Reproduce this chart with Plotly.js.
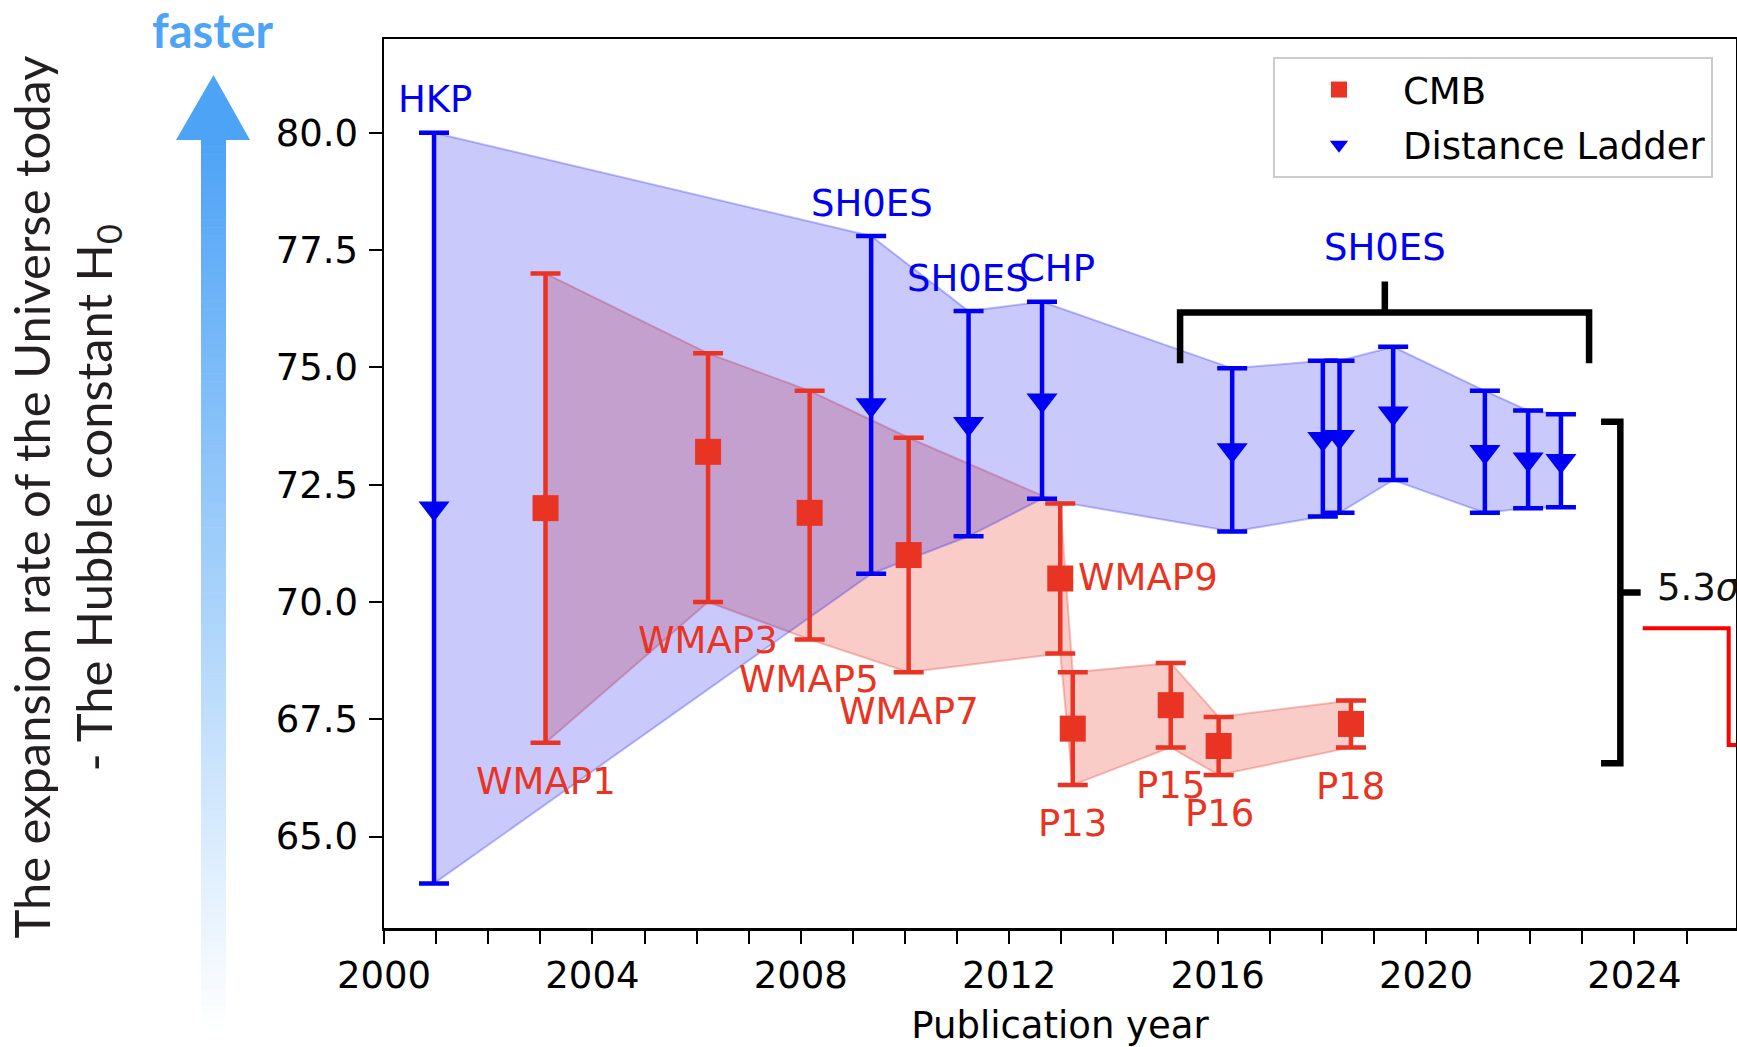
<!DOCTYPE html>
<html><head><meta charset="utf-8">
<script src="https://cdn.plot.ly/plotly-3.0.1.min.js"></script>
<style>html,body{margin:0;padding:0;background:#fff;}#chart{width:1737px;height:1047px;}</style>
</head><body><div id="chart"></div>
<script>
// ---------------- data ----------------
const cmbNames   = ['WMAP1','WMAP3','WMAP5','WMAP7','WMAP9','P13','P15','P16','P18'];
const cmbYear    = [2003.10, 2006.22, 2008.17, 2010.07, 2012.98, 2013.22, 2015.10, 2016.02, 2018.56];
const cmbH0      = [72.0, 73.2, 71.9, 71.0, 70.5, 67.3, 67.8, 66.93, 67.4];
const cmbErrUp   = [5.0, 2.1, 2.6, 2.5, 1.6, 1.2, 0.9, 0.62, 0.5];
const cmbErrDown = [5.0, 3.2, 2.7, 2.5, 1.6, 1.2, 0.9, 0.62, 0.5];

const dlNames = ['HKP','SH0ES','SH0ES','CHP','SH0ES','SH0ES','SH0ES','SH0ES','SH0ES','SH0ES','SH0ES'];
const dlYear  = [2000.96, 2009.35, 2011.22, 2012.63, 2016.28, 2018.02, 2018.34, 2019.37, 2021.13, 2021.96, 2022.59];
const dlH0    = [72.0, 74.2, 73.8, 74.3, 73.24, 73.48, 73.52, 74.02, 73.2, 73.04, 73.01];
const dlErr   = [8.0, 3.6, 2.4, 2.1, 1.74, 1.66, 1.62, 1.42, 1.3, 1.04, 0.99];

const xTickVals = [2000, 2004, 2008, 2012, 2016, 2020, 2024];
const yTickVals = [65.0, 67.5, 70.0, 72.5, 75.0, 77.5, 80.0];
const sigmaLabel = '5.3';

// label text shown on the chart, and where each one sits (layout)
const dlLabelText = ['HKP','SH0ES','SH0ES','CHP','SH0ES'];
const dlLabelPos  = [[2000.98,80.71],[2009.36,78.49],[2011.20,76.89],[2012.92,77.11],[2019.22,77.56]];
const cmbLabelPos = [[2003.11,66.17,'center'],[2006.21,69.17,'center'],[2008.16,68.35,'center'],[2010.07,67.66,'center'],
                     [2013.28,70.52,'left'],[2013.22,65.27,'center'],[2015.10,66.08,'center'],[2016.03,65.49,'center'],[2018.56,66.06,'center']];

// ---------------- styling ----------------
const RED = '#e93424', BLUE = '#0000f5';
const FONT = 'DejaVu Sans';
const W = 1737, H = 1047, ML = 384, MR = 1, MT = 39, MB = 119;
const PW = W - ML - MR, PH = H - MT - MB;
const px = X => (X - ML) / PW;          // page pixel -> paper x
const py = Y => (H - MB - Y) / PH;      // page pixel -> paper y

function fitSize(text, family, weight, target) {
  const c = document.createElement('canvas').getContext('2d');
  c.font = weight + ' 100px "' + family + '"';
  return 100 * target / c.measureText(text).width;
}

const cmbUpper = cmbH0.map((v, i) => v + cmbErrUp[i]);
const cmbLower = cmbH0.map((v, i) => v - cmbErrDown[i]);
const dlUpper  = dlH0.map((v, i) => v + dlErr[i]);
const dlLower  = dlH0.map((v, i) => v - dlErr[i]);

const traces = [
  {x: cmbYear, y: cmbUpper, mode: 'lines', line: {color: 'rgba(233,52,36,0.3)', width: 2}, showlegend: false, hoverinfo: 'skip'},
  {x: cmbYear, y: cmbLower, mode: 'lines', fill: 'tonexty', fillcolor: 'rgba(233,52,36,0.25)',
   line: {color: 'rgba(233,52,36,0.3)', width: 2}, showlegend: false, hoverinfo: 'skip'},
  {x: dlYear, y: dlUpper, mode: 'lines', line: {color: 'rgba(0,0,235,0.25)', width: 2}, showlegend: false, hoverinfo: 'skip'},
  {x: dlYear, y: dlLower, mode: 'lines', fill: 'tonexty', fillcolor: 'rgba(0,0,235,0.21)',
   line: {color: 'rgba(0,0,235,0.25)', width: 2}, showlegend: false, hoverinfo: 'skip'},
  {x: cmbYear, y: cmbH0, mode: 'markers', name: 'CMB', legendgroup: 'a', text: cmbNames,
   marker: {symbol: 'square', size: 26, color: RED, line: {width: 0}},
   error_y: {type: 'data', symmetric: false, array: cmbErrUp, arrayminus: cmbErrDown, color: RED, thickness: 4.5, width: 15}},
  {x: dlYear, y: dlH0, mode: 'markers', name: 'Distance Ladder', legendgroup: 'b', text: dlNames,
   marker: {symbol: 'triangle-down', size: 27, color: BLUE, line: {width: 0}},
   error_y: {type: 'data', array: dlErr, color: BLUE, thickness: 4.5, width: 15}}
];

// ---------------- annotations ----------------
const annotations = [];
dlLabelText.forEach((t, i) => annotations.push({
  x: dlLabelPos[i][0], y: dlLabelPos[i][1], xref: 'x', yref: 'y', text: t, showarrow: false,
  xanchor: 'center', yanchor: 'middle', font: {family: FONT, size: 37, color: BLUE}}));
cmbNames.forEach((t, i) => annotations.push({
  x: cmbLabelPos[i][0], y: cmbLabelPos[i][1], xref: 'x', yref: 'y', text: t, showarrow: false,
  xanchor: cmbLabelPos[i][2], yanchor: 'middle', font: {family: FONT, size: 37, color: RED}}));
annotations.push({x: 2024.40, y: 70.30, xref: 'x', yref: 'y', text: sigmaLabel + '<i>σ</i>', showarrow: false,
  xanchor: 'left', yanchor: 'middle', font: {family: FONT, size: 37, color: '#111'}});

const TF = 'Lato';
const line1 = 'The expansion rate of the Universe today';
const line2 = '- The Hubble constant H';
const tSize = fitSize(line1, TF, 400, 884);
annotations.push({x: px(30), y: py(497.5), xref: 'paper', yref: 'paper', text: line1, textangle: -90, showarrow: false,
  xanchor: 'center', yanchor: 'middle', font: {family: TF, size: tSize, color: '#231f20'}});
annotations.push({x: px(96), y: py(498.5), xref: 'paper', yref: 'paper', text: line2 + '<sub>0</sub>', textangle: -90, showarrow: false,
  xanchor: 'center', yanchor: 'middle', font: {family: TF, size: tSize, color: '#231f20'}});
const fSize = fitSize('faster', TF, 700, 121);
annotations.push({x: px(212.5), y: py(30), xref: 'paper', yref: 'paper', text: 'faster', showarrow: false,
  xanchor: 'center', yanchor: 'middle', font: {family: TF, size: fSize, weight: 700, color: '#4da3f5'}});

// ---------------- shapes ----------------
const shapes = [];
// gradient arrow shaft
const arrowTop = [77, 163, 246], NSLICE = 110, SY0 = 138, SY1 = 1030;
for (let i = 0; i < NSLICE; i++) {
  const ya = SY0 + (SY1 - SY0) * i / NSLICE, yb = SY0 + (SY1 - SY0) * (i + 1) / NSLICE + 0.6;
  const t = (i + 0.5) / NSLICE;
  const c = arrowTop.map(v => Math.round(v + (255 - v) * t));
  shapes.push({type: 'rect', xref: 'paper', yref: 'paper', x0: px(201), x1: px(226), y0: py(yb), y1: py(ya),
    fillcolor: 'rgb(' + c.join(',') + ')', line: {width: 0}, layer: 'above'});
}
shapes.push({type: 'path', xref: 'paper', yref: 'paper',
  path: 'M' + px(176) + ',' + py(140) + ' L' + px(250) + ',' + py(140) + ' L' + px(213.5) + ',' + py(75) + ' Z',
  fillcolor: 'rgb(77,163,246)', line: {width: 0}, layer: 'above'});
// brackets
shapes.push({type: 'path', xref: 'x', yref: 'y', line: {color: '#000', width: 6.5},
  path: 'M2015.28,75.09 L2015.28,76.17 L2023.13,76.17 L2023.13,75.09 M2019.21,76.17 L2019.21,76.83'});
shapes.push({type: 'path', xref: 'x', yref: 'y', line: {color: '#000', width: 6.5},
  path: 'M2023.36,73.84 L2023.73,73.84 L2023.73,66.56 L2023.36,66.56 M2023.73,70.20 L2024.12,70.20'});
shapes.push({type: 'path', xref: 'x', yref: 'y', line: {color: '#ff0000', width: 4},
  path: 'M2024.16,69.44 L2025.81,69.44 L2025.81,66.95 L2026.5,66.95'});

const axisCommon = {showline: true, mirror: true, linecolor: '#000', linewidth: 2.5, ticks: 'outside',
  ticklen: 13, tickwidth: 2, tickcolor: '#000', showgrid: false, zeroline: false,
  tickfont: {family: FONT, size: 37, color: '#000'}, automargin: false};

const layout = {
  width: W, height: H, margin: {l: ML, r: MR, t: MT, b: MB},
  paper_bgcolor: '#fff', plot_bgcolor: '#fff', font: {family: FONT},
  xaxis: Object.assign({}, axisCommon, {range: [2000, 2025.95], tickvals: xTickVals, ticktext: xTickVals.map(String),
    minor: {dtick: 1, tick0: 2000, ticks: 'outside', ticklen: 13, tickwidth: 2, tickcolor: '#000', showgrid: false},
    title: {text: 'Publication year', font: {family: FONT, size: 37, color: '#000'}, standoff: 16}}),
  yaxis: Object.assign({}, axisCommon, {range: [63.05, 82.0], tickvals: yTickVals, ticktext: yTickVals.map(v => v.toFixed(1)),
    ticklabelstandoff: 3}),
  legend: {x: px(1713), y: py(57), xanchor: 'right', yanchor: 'top', bgcolor: 'rgba(255,255,255,0.8)',
    bordercolor: '#cccccc', borderwidth: 2, font: {family: FONT, size: 37, color: '#000'},
    itemwidth: 118, tracegroupgap: 4, traceorder: 'grouped'},
  showlegend: true,
  annotations: annotations,
  shapes: shapes,
  hovermode: false
};

Plotly.newPlot('chart', traces, layout, {displayModeBar: false, staticPlot: true});
</script></body></html>
